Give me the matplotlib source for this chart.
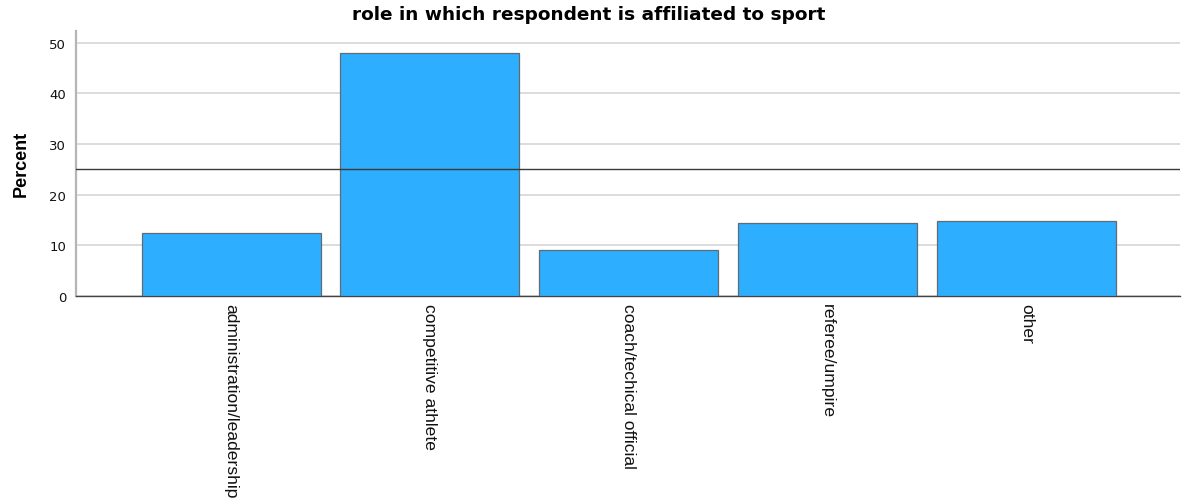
import matplotlib
matplotlib.use("Agg")
import matplotlib.pyplot as plt

categories = ["administration/leadership", "competitive athlete",
              "coach/techical official", "referee/umpire", "other"]
percent = [12.4, 47.9, 9.0, 14.4, 14.9]
yticks = [0, 10, 20, 30, 40, 50]
ref_value = 25

fig = plt.figure(figsize=(11.82, 5.02), dpi=100)
ax = fig.add_axes([0.0643, 0.4084, 0.9337, 0.5285])

x = list(range(len(categories)))
ax.bar(x, percent, width=0.9, color="#2eaefe", edgecolor="#5f6b75",
       linewidth=0.9, zorder=3)
ax.axhline(ref_value, color="#3a3a3a", linewidth=1.0, zorder=4)

ax.set_xlim(-0.78, 4.77)
ax.set_ylim(0, 52.4)
ax.set_yticks(yticks)
ax.set_yticklabels([str(v) for v in yticks], fontfamily="DejaVu Sans",
                   fontsize=9.5)
ax.set_xticks(x)
ax.set_xticklabels(categories, rotation=270, fontfamily="Liberation Sans",
                   fontsize=12.6, va="top", ha="center")
ax.tick_params(axis="both", length=0, colors="#111111")
ax.tick_params(axis="y", pad=7)
ax.tick_params(axis="x", pad=5)

ax.yaxis.grid(True, color="#d6d6d6", linewidth=1.2, zorder=0)
ax.set_axisbelow(True)
for s in ("top", "right"):
    ax.spines[s].set_visible(False)
ax.spines["left"].set_color("#b5b5b5")
ax.spines["left"].set_linewidth(1.6)
ax.spines["bottom"].set_color("#444444")
ax.spines["bottom"].set_linewidth(1.0)

ax.set_ylabel("Percent", fontfamily="Liberation Sans", fontweight="bold",
              fontsize=13, labelpad=14)
fig.text(0.498, 0.970, "role in which respondent is affiliated to sport",
         fontfamily="DejaVu Sans", fontweight="bold", fontsize=13.3,
         ha="center", va="center")

fig.savefig("out.png", dpi=100)
